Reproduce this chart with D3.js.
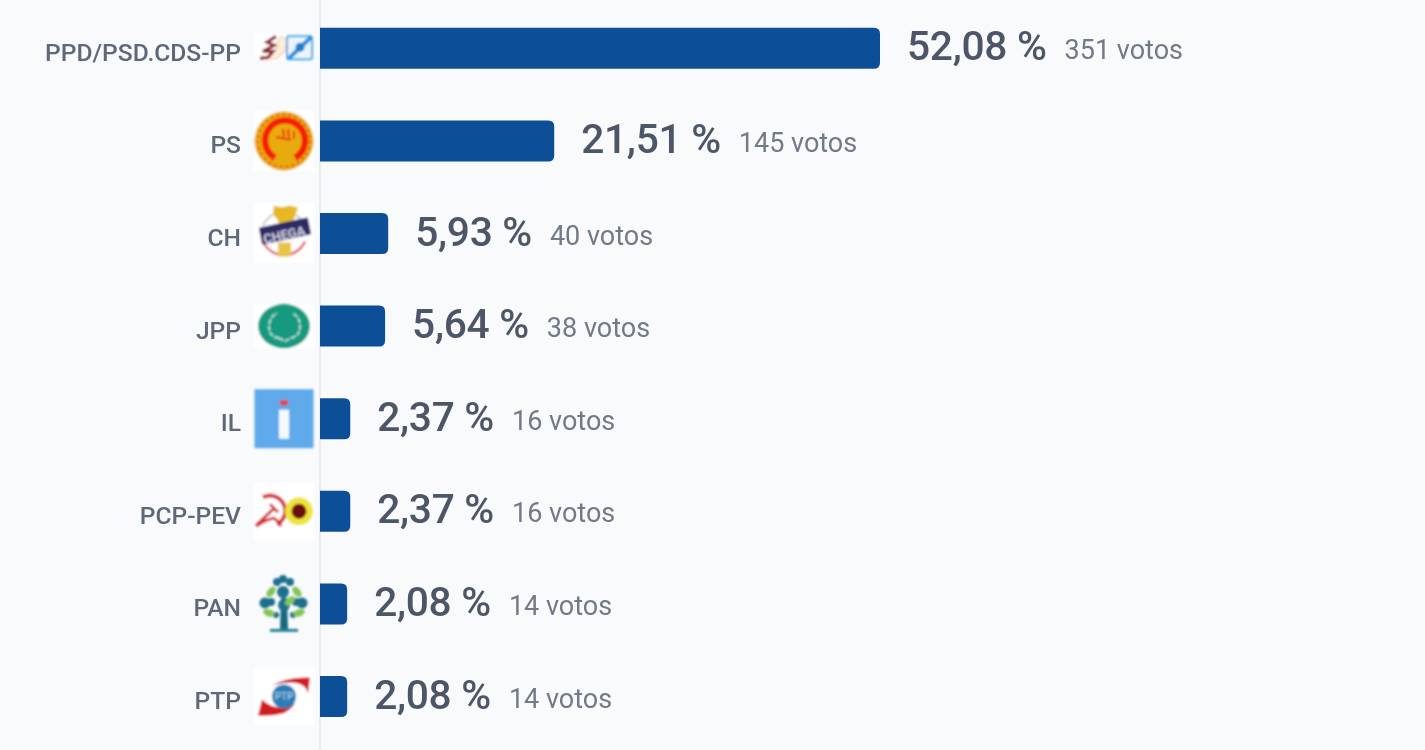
<!DOCTYPE html>
<html>
<head>
<meta charset="utf-8">
<script src="https://cdnjs.cloudflare.com/ajax/libs/d3/7.8.5/d3.min.js"></script>
<style>
  html, body { margin: 0; padding: 0; background: #f9fafc; overflow: hidden; }
  text { font-family: Roboto, sans-serif; }
</style>
</head>
<body>
<svg id="chart" width="1425" height="750"></svg>
<script>
var parties = ["PPD/PSD.CDS-PP", "PS", "CH", "JPP", "IL", "PCP-PEV", "PAN", "PTP"];
var percents = [52.08, 21.51, 5.93, 5.64, 2.37, 2.37, 2.08, 2.08];
var percentLabels = ["52,08 %", "21,51 %", "5,93 %", "5,64 %", "2,37 %", "2,37 %", "2,08 %", "2,08 %"];
var votes = [351, 145, 40, 38, 16, 16, 14, 14];

var ROW_HEIGHT = 92.6, BAR_HEIGHT = 41, AXIS_X = 320;

var svg = d3.select("#chart");
var defs = svg.append("defs");
defs.append("filter").attr("id", "soft").append("feGaussianBlur").attr("stdDeviation", 0.8);
defs.append("filter").attr("id", "softer").append("feGaussianBlur").attr("stdDeviation", 0.6);

var x = d3.scaleLinear().domain([0, 52.08]).range([325, 880]);
var y = d3.scaleBand().domain(parties).range([2, 2 + ROW_HEIGHT * parties.length]);

function rowY(d) { return y(d) + y.bandwidth() / 2; }

// axis line
svg.append("line").attr("x1", AXIS_X).attr("x2", AXIS_X).attr("y1", 0).attr("y2", 750)
  .style("stroke", "#e3e6ed").style("stroke-width", 1.5);

var rows = svg.selectAll("g.row").data(parties).enter().append("g")
  .attr("class", "row")
  .attr("transform", function(d) { return "translate(0," + rowY(d) + ")"; });

rows.append("path")
  .attr("d", function(d, i) {
    var w = x(percents[i]) - AXIS_X, r = 6, h = BAR_HEIGHT / 2;
    return "M0," + -h + "H" + (w - r) + "Q" + w + "," + -h + " " + w + "," + (-h + r) +
      "V" + (h - r) + "Q" + w + "," + h + " " + (w - r) + "," + h + "H0Z";
  })
  .attr("transform", "translate(" + AXIS_X + ",0)")
  .attr("filter", "url(#softer)")
  .style("fill", "#0b5096");

var texts = rows.append("g").attr("filter", "url(#softer)");

texts.append("text")
  .attr("x", 241).attr("y", 12.5)
  .attr("text-anchor", "end")
  .style("font-size", "24.6px").style("font-weight", 500).style("fill", "#5f6879")
  .text(function(d) { return d; });

var pct = texts.append("text")
  .attr("x", function(d, i) { return x(percents[i]) + 27; })
  .attr("y", 12)
  .style("font-size", "40.7px").style("font-weight", 500).style("fill", "#4d5666")
  .style("letter-spacing", "-0.3px")
  .text(function(d, i) { return percentLabels[i]; });

// votes sit just after the percentage, so measure where it ends
texts.append("text")
  .attr("x", function(d, i) { return x(percents[i]) + 27 + pct.nodes()[i].getComputedTextLength() + 18; })
  .attr("y", 11)
  .style("font-size", "27px").style("fill", "#727a88")
  .text(function(d, i) { return votes[i] + " votos"; });

// logos, centred on the box left of the axis
var logo = rows.append("g").attr("transform", "translate(284,0)").attr("filter", "url(#soft)");

function logoBox(g, h, dy) {
  g.append("rect").attr("x", -30).attr("y", dy - h / 2).attr("width", 60).attr("height", h).style("fill", "#fff");
}

var logos = {
  "PPD/PSD.CDS-PP": function(g) {
    g.append("rect").attr("x", -29).attr("y", -15).attr("width", 30).attr("height", 27).style("fill", "#fff");
    g.append("path").attr("d", "M-2,-12 L7,-3 L2,-3 L0,4 L-7,10 L-17,11 L-11,5 L-6,-2 L-9,-4Z")
      .style("fill", "#fdeedd").style("stroke", "#f8cfa6").style("stroke-width", 1.2);
    g.append("path").attr("d", "M-8,-12 L-17,-6 L-10,-3 L-21,3 L-11,3 L-16,9 L-24,10")
      .style("fill", "none").style("stroke", "#8c2f3a").style("stroke-width", 3.2);
    g.append("rect").attr("x", 3).attr("y", -12).attr("width", 25).attr("height", 23).attr("rx", 2)
      .style("fill", "#eaf6fd").style("stroke", "#45a8ea").style("stroke-width", 2);
    g.append("path").attr("d", "M5,10 L27,-11").style("stroke", "#1c8fe3").style("stroke-width", 4);
    g.append("circle").attr("cx", 16).attr("cy", -1).attr("r", 4.5).style("fill", "#1c7fd0");
  },
  "PS": function(g) {
    logoBox(g, 60, 0);
    g.append("circle").attr("r", 29.5).style("fill", "#e8ab10");
    g.append("circle").attr("r", 26).style("fill", "none").style("stroke", "#e8651a")
      .style("stroke-width", 2.5).style("stroke-dasharray", "3 3");
    g.append("path").attr("d", "M-9,17 A20,20 0 1 1 11,17").style("fill", "none")
      .style("stroke", "#f51d05").style("stroke-width", 6.5);
    g.append("path").attr("d", "M-7,-13 L10,-14 L16,-3 L12,7 L9,11 L10,21 L-4,21 L-4,8 L-10,1Z").style("fill", "#e8ab10");
    g.append("path").attr("d", "M-8,-4 L7,-1 M-1,-12 L0,-4 M4,-12 L5,-3 M10,-10 L10,-2").style("fill", "none")
      .style("stroke", "#ef2a08").style("stroke-width", 2);
  },
  "CH": function(g) {
    logoBox(g, 60, -1);
    g.append("path").attr("d", "M-21,-8 A23,23 0 0 1 20,-10").style("fill", "none").style("stroke", "#c9ccd4").style("stroke-width", 2);
    g.append("path").attr("d", "M-20,10 A23,23 0 0 0 21,8").style("fill", "none").style("stroke", "#e5636d").style("stroke-width", 2.5);
    g.append("path").attr("d", "M-10,-28 Q-2,-25 5,-28 L14,-26 Q11,-17 8,-10 L-3,-6 Q-7,-16 -11,-19Z").style("fill", "#e6b828");
    g.append("path").attr("d", "M-6,9 H7 V23 H-6Z").style("fill", "#eac24a");
    g.append("path").attr("d", "M-24,-5 L23,-15 L26,0 L-21,10Z").style("fill", "#2d2c66").style("stroke", "#2d2c66")
      .style("stroke-width", 2).style("stroke-linejoin", "round");
    g.append("text").attr("x", 0).attr("y", 6).attr("text-anchor", "middle").attr("transform", "rotate(-12)")
      .style("font-size", "13px").style("font-weight", 700).style("fill", "#d0d0e4").text("CHEGA");
  },
  "JPP": function(g) {
    logoBox(g, 44, 0);
    g.append("ellipse").attr("rx", 26).attr("ry", 22).style("fill", "#139a7f");
    g.append("path").attr("d", "M-5,12 Q-18,10 -14,-5 Q-12,-11 -7,-13 M7,12 Q19,9 15,-6 Q13,-11 8,-13 M-5,12 L1,15 L7,12")
      .style("fill", "none").style("stroke", "#bfe6dc").style("stroke-width", 1.8).style("stroke-dasharray", "5 1.5");
  },
  "IL": function(g) {
    g.append("rect").attr("x", -29.5).attr("y", -29.5).attr("width", 59).attr("height", 59).style("fill", "#5eaaea");
    g.append("rect").attr("x", -5).attr("y", -9).attr("width", 10).attr("height", 29).style("fill", "#f4f9fe");
    g.append("ellipse").attr("cy", -16).attr("rx", 4.5).attr("ry", 3).style("fill", "#e8434c");
  },
  "PCP-PEV": function(g) {
    logoBox(g, 58, 0);
    g.append("path").attr("d", "M-21,-14 A14,14 0 1 1 -7,13").style("fill", "none").style("stroke", "#d8343a").style("stroke-width", 4);
    g.append("path").attr("d", "M-28,14 L-10,-3 M-14,-7 L-6,1 M-28,15 Q-18,8 -10,7 Q-6,9 -3,15").style("fill", "none")
      .style("stroke", "#d8343a").style("stroke-width", 3);
    g.append("circle").attr("cx", 15).attr("cy", 0).attr("r", 14).style("fill", "#eee33a");
    g.append("circle").attr("cx", 15).attr("cy", 0).attr("r", 7.5).style("fill", "#6a1010");
  },
  "PAN": function(g) {
    g.append("path").attr("d", "M-3,-6 H3 L4,26 H-4Z").style("fill", "#19697f");
    g.append("rect").attr("x", -14).attr("y", 25).attr("width", 28).attr("height", 3).style("fill", "#2a8296");
    g.selectAll("circle.leaf").data([[-1, -12, 6], [-7, -22, 4], [-1, -25, 4], [6, -22, 4], [-19, -1, 5.5], [-13, -2, 4], [18, -1, 5.5], [12, -2, 4], [-8, 11, 3], [9, 11, 3], [0, 1, 6]])
      .enter().append("circle").attr("class", "leaf")
      .attr("cx", function(p) { return p[0]; }).attr("cy", function(p) { return p[1]; }).attr("r", function(p) { return p[2]; })
      .style("fill", "#1f6f8c");
    g.selectAll("ellipse.green").data([[-13, -12, -50], [13, -12, 50], [-15, 9, 20], [15, 9, -20], [6, -3, -40]])
      .enter().append("ellipse").attr("class", "green")
      .attr("transform", function(p) { return "translate(" + p[0] + "," + p[1] + ") rotate(" + p[2] + ")"; })
      .attr("rx", 6).attr("ry", 3.5)
      .style("fill", "#84c557");
  },
  "PTP": function(g) {
    logoBox(g, 58, 0);
    g.append("path").attr("d", "M-12,-11 Q3,-20 26,-19 L24,-3 Q22,-13 8,-14 Q-3,-14 -12,-11Z").style("fill", "#d11c24");
    g.append("path").attr("d", "M-26,19 L-22,3 Q-14,11 -2,11 L11,7 Q6,14 -1,17 Q-14,20 -26,19Z").style("fill", "#d11c24");
    g.append("circle").attr("cx", 0).attr("cy", 0).attr("r", 12).style("fill", "#2a7db5");
    g.append("text").attr("y", 3.5).attr("text-anchor", "middle").style("font-size", "10px").style("fill", "#bcdcf0").text("PTP");
  }
};

logo.each(function(d) { logos[d](d3.select(this)); });
</script>
</body>
</html>
